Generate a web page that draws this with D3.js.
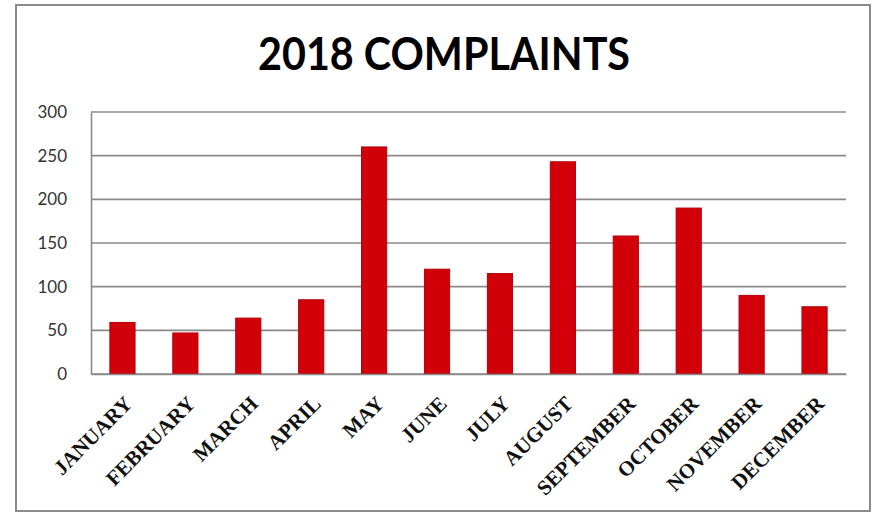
<!DOCTYPE html>
<html>
<head>
<meta charset="utf-8">
<script src="https://cdn.jsdelivr.net/npm/d3@7"></script>
<style>
  body { margin: 0; background: #fff; }
  svg { display: block; }
</style>
</head>
<body>
<div id="chart"></div>
<script>
// data
const months = ["JANUARY", "FEBRUARY", "MARCH", "APRIL", "MAY", "JUNE",
                "JULY", "AUGUST", "SEPTEMBER", "OCTOBER", "NOVEMBER", "DECEMBER"]
const complaints = [59, 47, 64, 85, 260, 120, 115, 243, 158, 190, 90, 77]
const yTicks = [0, 50, 100, 150, 200, 250, 300]
const chartTitle = "2018 COMPLAINTS"

const width = 876, height = 515
const margin = {top: 112, right: 30, bottom: 141, left: 91}

const svg = d3.select("#chart")
    .append("svg")
    .attr("width", width)
    .attr("height", height)

// outer frame of the chart object
svg.append("rect")
    .attr("x", 16).attr("y", 5)
    .attr("width", 854).attr("height", 506)
    .attr("fill", "#fff")
    .attr("stroke", "#8c8c8c")
    .attr("stroke-width", 2)

const x = d3.scaleBand()
    .domain(months)
    .range([margin.left, width - margin.right])
    .paddingInner(0.6)
    .paddingOuter(0.3)

const y = d3.scaleLinear()
    .domain([0, 300])
    .range([height - margin.bottom, margin.top])

// gridlines
svg.append("g")
    .selectAll("line")
    .data(yTicks)
    .join("line")
    .attr("x1", margin.left)
    .attr("x2", width - margin.right)
    .attr("y1", d => y(d))
    .attr("y2", d => y(d))
    .attr("stroke", "#8a8a8a")
    .attr("stroke-width", 1.6)

// y axis
const yAxis = svg.append("g")
    .attr("transform", `translate(${margin.left},0)`)
    .call(d3.axisLeft(y).tickValues(yTicks).tickSize(0).tickPadding(24))
yAxis.select(".domain").attr("stroke", "#8a8a8a").attr("stroke-width", 1.6)
yAxis.selectAll("text")
    .attr("font-family", "Lato, 'Open Sans', sans-serif")
    .attr("font-size", 17)
    .attr("fill", "#333")

// bars
svg.append("g")
    .selectAll("rect")
    .data(complaints)
    .join("rect")
    .attr("x", (d, i) => x(months[i]))
    .attr("y", d => y(d))
    .attr("width", x.bandwidth())
    .attr("height", d => y(0) - y(d))
    .attr("fill", "#d20009")
    .attr("stroke", "#b30008")
    .attr("stroke-width", 1)

// x axis
const xAxis = svg.append("g")
    .attr("transform", `translate(0,${y(0)})`)
    .call(d3.axisBottom(x).tickSize(0))
xAxis.select(".domain").attr("stroke", "#8a8a8a").attr("stroke-width", 1.6)
xAxis.selectAll("text")
    .attr("font-family", "'Liberation Serif', 'DejaVu Serif', serif")
    .attr("font-weight", "bold")
    .attr("font-size", 21)
    .attr("fill", "#111")
    .attr("text-anchor", "end")
    .attr("dy", 0)
    .attr("y", 0)
    .attr("transform", "translate(11,31) rotate(-45)")

// title
svg.append("text")
    .attr("x", 444)
    .attr("y", 70)
    .attr("text-anchor", "middle")
    .attr("font-family", "Lato, 'Open Sans', sans-serif")
    .attr("font-weight", "bold")
    .attr("font-size", 45)
    .attr("textLength", 372)
    .attr("lengthAdjust", "spacingAndGlyphs")
    .attr("fill", "#000")
    .text(chartTitle)
</script>
</body>
</html>
